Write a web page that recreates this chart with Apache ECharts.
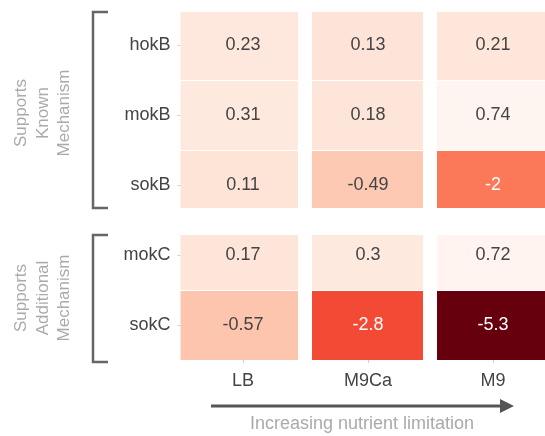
<!DOCTYPE html>
<html>
<head>
<meta charset="utf-8">
<script src="https://cdn.jsdelivr.net/npm/echarts@6/dist/echarts.min.js"></script>
<style>
  html, body { margin: 0; padding: 0; background: #fff; }
  #chart { width: 545px; height: 436px; }
</style>
</head>
<body>
<div id="chart"></div>
<script>
// Rows (genes) and columns (growth media)
const genes = ['hokB', 'mokB', 'sokB', 'mokC', 'sokC'];
const media = ['LB', 'M9Ca', 'M9'];

// Values per medium, in gene order
const valuesLB   = [0.23, 0.31, 0.11, 0.17, -0.57];
const valuesM9Ca = [0.13, 0.18, -0.49, 0.3, -2.8];
const valuesM9   = [0.21, 0.74, -2, 0.72, -5.3];

const groupKnown = 'Supports\nKnown\nMechanism';
const groupAdditional = 'Supports\nAdditional\nMechanism';
const arrowLabel = 'Increasing nutrient limitation';

const columns = [valuesLB, valuesM9Ca, valuesM9];
const cells = [];
columns.forEach((col, xi) => col.forEach((v, yi) => cells.push([xi, yi, v])));

const allValues = cells.map(c => c[2]);
const vMin = Math.min(...allValues);
const vMax = Math.max(...allValues);

// Reds palette, darkest at the most negative value
const reds = ['#67000d', '#a50f15', '#cb181d', '#ef3b2c', '#fb6a4a',
              '#fc9272', '#fcbba1', '#fee0d2', '#fff5f0'];

const FONT = 'Liberation Sans, Arial, sans-serif';

const chart = echarts.init(document.getElementById('chart'), null, { renderer: 'canvas' });

chart.setOption({
  animation: false,
  backgroundColor: '#ffffff',
  grid: {
    left: 180.5, top: 10, width: 375, height: 350,
    containLabel: false, outerBoundsMode: 'none'
  },
  xAxis: {
    type: 'category',
    data: media,
    axisLine: { show: false },
    axisTick: { show: true, length: 3, alignWithLabel: true, lineStyle: { color: '#d0d0d0' } },
    axisLabel: { color: '#444', fontSize: 18, fontFamily: FONT, margin: 12 },
    splitLine: { show: false }
  },
  yAxis: {
    type: 'category',
    data: genes,
    inverse: true,
    axisLine: { show: false },
    axisTick: { show: true, length: 3, alignWithLabel: true, lineStyle: { color: '#d0d0d0' } },
    axisLabel: { color: '#444', fontSize: 18, fontFamily: FONT, margin: 10 },
    splitLine: { show: false }
  },
  visualMap: {
    show: false,
    type: 'continuous',
    dimension: 2,
    min: vMin,
    max: vMax,
    inRange: { color: reds }
  },
  series: [{
    type: 'custom',
    data: cells,
    encode: { x: 0, y: 1 },
    renderItem: function (params, api) {
      const xi = api.value(0), yi = api.value(1), v = api.value(2);
      const c = api.coord([xi, yi]);
      const s = api.size([1, 1]);
      let x0 = c[0] - s[0] / 2, x1 = c[0] + s[0] / 2;
      let y0 = c[1] - s[1] / 2, y1 = c[1] + s[1] / 2;
      // white gutters between media columns
      if (xi > 0) x0 += 6.5;
      if (xi < media.length - 1) x1 -= 7.5;
      // white gap separating the two gene groups
      if (yi === 2) y1 -= 12;
      if (yi === 3) y0 += 15;
      if (yi === 0) y0 += 2;
      // hairline between rows of the same group
      if (yi === 1 || yi === 2 || yi === 4) y0 += 1;
      const textColor = v < -1.5 ? '#ffffff' : '#444444';
      return {
        type: 'group',
        children: [{
          type: 'rect',
          shape: { x: x0, y: y0, width: x1 - x0, height: y1 - y0 },
          style: { fill: api.visual('color') }
        }, {
          type: 'text',
          x: c[0], y: c[1],
          style: {
            text: String(v),
            fill: textColor,
            font: '18px ' + FONT,
            align: 'center',
            verticalAlign: 'middle'
          }
        }]
      };
    }
  }],
  graphic: [
    {
      type: 'polyline',
      shape: { points: [[108, 12], [93, 12], [93, 208], [108, 208]] },
      style: { stroke: '#666', lineWidth: 2.5, fill: null }
    },
    {
      type: 'polyline',
      shape: { points: [[108, 235], [93, 235], [93, 362], [108, 362]] },
      style: { stroke: '#666', lineWidth: 2.5, fill: null }
    },
    {
      type: 'text',
      x: 43, y: 113,
      rotation: Math.PI / 2,
      style: {
        text: groupKnown, fill: '#aaaaaa', font: '17px ' + FONT,
        align: 'center', verticalAlign: 'middle', lineHeight: 21.5
      }
    },
    {
      type: 'text',
      x: 43, y: 298,
      rotation: Math.PI / 2,
      style: {
        text: groupAdditional, fill: '#aaaaaa', font: '17px ' + FONT,
        align: 'center', verticalAlign: 'middle', lineHeight: 21.5
      }
    },
    {
      type: 'line',
      shape: { x1: 211, y1: 406, x2: 502, y2: 406 },
      style: { stroke: '#555', lineWidth: 3 }
    },
    {
      type: 'polygon',
      shape: { points: [[500, 399], [514, 406], [500, 413]] },
      style: { fill: '#555' }
    },
    {
      type: 'text',
      x: 362, y: 424,
      style: {
        text: arrowLabel, fill: '#aaaaaa', font: '18px ' + FONT,
        align: 'center', verticalAlign: 'middle'
      }
    }
  ]
});
</script>
</body>
</html>
